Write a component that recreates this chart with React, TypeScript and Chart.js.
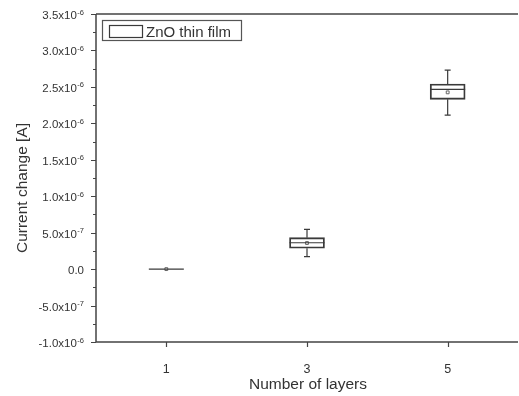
import React, { useEffect, useRef } from "react";
import { Chart, registerables } from "chart.js";

Chart.register(...registerables);

// Box plot statistics (values in A)
const layers = [1, 3, 5];
const whiskerLow = [0, 0.17e-6, 2.113e-6];
const q1 = [0, 0.286e-6, 2.329e-6];
const median = [0, 0.362e-6, 2.466e-6];
const q3 = [0, 0.431e-6, 2.539e-6];
const whiskerHigh = [0, 0.546e-6, 2.731e-6];
const mean = [0, 0.358e-6, 2.425e-6];

const seriesLabel = "ZnO thin film";
const xTicks = [1, 3, 5];
const xTickLabels = ["1", "3", "5"];
const yTicks = [-1e-6, -0.5e-6, 0, 0.5e-6, 1e-6, 1.5e-6, 2e-6, 2.5e-6, 3e-6, 3.5e-6];
const yTickMantissa = ["-1.0x10", "-5.0x10", "0.0", "5.0x10", "1.0x10", "1.5x10", "2.0x10", "2.5x10", "3.0x10", "3.5x10"];
const yTickExponent = ["-6", "-7", "", "-7", "-6", "-6", "-6", "-6", "-6", "-6"];
const xTitle = "Number of layers";
const yTitle = "Current change [A]";

const FONT = '"Liberation Sans", Arial, sans-serif';
const INK = "#333333";

const drawPlugin = {
  id: "boxAndAxes",
  afterDatasetsDraw(chart: any) {
    const ctx = chart.ctx;
    const xs = chart.scales.x;
    const ys = chart.scales.y;
    const meta = chart.getDatasetMeta(0);
    ctx.save();
    ctx.strokeStyle = "#3a3a3a";
    ctx.lineWidth = 1.2;
    layers.forEach((l, i) => {
      const bar = meta.data[i];
      const half = bar ? bar.width / 2 : 17;
      const cx = xs.getPixelForValue(l);
      // median
      const my = ys.getPixelForValue(median[i]);
      ctx.beginPath();
      ctx.moveTo(cx - half, my);
      ctx.lineTo(cx + half, my);
      ctx.stroke();
      // whiskers
      const segs: [number, number][] = [
        [q3[i], whiskerHigh[i]],
        [q1[i], whiskerLow[i]],
      ];
      segs.forEach(([a, b]) => {
        if (a === b) return;
        const ya = ys.getPixelForValue(a);
        const yb = ys.getPixelForValue(b);
        ctx.beginPath();
        ctx.moveTo(cx, ya);
        ctx.lineTo(cx, yb);
        ctx.moveTo(cx - 3, yb);
        ctx.lineTo(cx + 3, yb);
        ctx.stroke();
      });
    });
    ctx.restore();
  },
  afterDraw(chart: any) {
    const ctx = chart.ctx;
    const xs = chart.scales.x;
    const ys = chart.scales.y;
    const area = chart.chartArea;
    ctx.save();
    // axes frame
    ctx.strokeStyle = "#444444";
    ctx.lineWidth = 1.5;
    ctx.beginPath();
    ctx.moveTo(area.left, area.top);
    ctx.lineTo(area.right, area.top);
    ctx.moveTo(area.left, area.top);
    ctx.lineTo(area.left, area.bottom);
    ctx.lineTo(area.right, area.bottom);
    ctx.stroke();

    // y ticks
    ctx.lineWidth = 1.2;
    ctx.beginPath();
    yTicks.forEach((v, i) => {
      const y = Math.round(ys.getPixelForValue(v)) + 0.5;
      ctx.moveTo(area.left - 5, y);
      ctx.lineTo(area.left, y);
      if (i < yTicks.length - 1) {
        const ym = Math.round(ys.getPixelForValue((v + yTicks[i + 1]) / 2)) + 0.5;
        ctx.moveTo(area.left - 3, ym);
        ctx.lineTo(area.left, ym);
      }
    });
    // x ticks
    xTicks.forEach((v) => {
      const x = Math.round(xs.getPixelForValue(v)) + 0.5;
      ctx.moveTo(x, area.bottom);
      ctx.lineTo(x, area.bottom + 5);
    });
    ctx.stroke();

    // y tick labels
    ctx.fillStyle = INK;
    ctx.textBaseline = "alphabetic";
    ctx.textAlign = "left";
    const right = area.left - 12;
    yTicks.forEach((v, i) => {
      const y = ys.getPixelForValue(v);
      ctx.font = `11.5px ${FONT}`;
      const m = yTickMantissa[i];
      const mw = ctx.measureText(m).width;
      ctx.font = `7.5px ${FONT}`;
      const e = yTickExponent[i];
      const ew = e ? ctx.measureText(e).width + 0.5 : 0;
      ctx.font = `11.5px ${FONT}`;
      ctx.fillText(m, right - ew - mw, y + 5);
      if (e) {
        ctx.font = `7.5px ${FONT}`;
        ctx.fillText(e, right - ew + 0.5, y + 0.5);
      }
    });

    // x tick labels
    ctx.font = `12.5px ${FONT}`;
    ctx.textAlign = "center";
    xTicks.forEach((v, i) => {
      ctx.fillText(xTickLabels[i], xs.getPixelForValue(v), area.bottom + 31);
    });

    // axis titles
    ctx.font = `15.5px ${FONT}`;
    ctx.fillText(xTitle, 308, 389);
    ctx.save();
    ctx.translate(27, 188);
    ctx.rotate(-Math.PI / 2);
    ctx.fillText(yTitle, 0, 0);
    ctx.restore();

    // legend
    ctx.strokeStyle = "#555555";
    ctx.lineWidth = 1.2;
    ctx.strokeRect(102.5, 20.5, 139, 20);
    ctx.strokeStyle = "#3a3a3a";
    ctx.strokeRect(109.5, 25.5, 33, 12);
    ctx.textAlign = "left";
    ctx.font = `15px ${FONT}`;
    ctx.fillStyle = INK;
    ctx.fillText(chart.data.datasets[0].label, 146, 37);
    ctx.restore();
  },
};

export default function App() {
  const ref = useRef<HTMLCanvasElement | null>(null);
  useEffect(() => {
    if (!ref.current) return;
    const chart = new Chart(ref.current, {
      type: "bar",
      data: {
        datasets: [
          {
            type: "bar",
            label: seriesLabel,
            data: layers.map((x, i) => ({ x, y: [q1[i], q3[i]] })) as any,
            backgroundColor: "rgba(255,255,255,0)",
            borderColor: "#3a3a3a",
            borderWidth: 1.2,
            borderSkipped: false,
            barThickness: 35,
          },
          {
            type: "scatter",
            label: "mean",
            data: layers.map((x, i) => ({ x, y: mean[i] })),
            pointStyle: "rect",
            radius: 2,
            borderColor: "#666666",
            backgroundColor: "rgba(255,255,255,0)",
            borderWidth: 1,
          } as any,
        ],
      },
      options: {
        animation: false,
        responsive: false,
        devicePixelRatio: 1,
        layout: { padding: { left: 96, top: 14, right: 2, bottom: 54 } },
        plugins: { legend: { display: false }, tooltip: { enabled: false } },
        scales: {
          x: { type: "linear", min: 0, max: 6, display: false, offset: false },
          y: { type: "linear", min: -1e-6, max: 3.5e-6, display: false },
        },
      },
      plugins: [drawPlugin],
    });
    return () => chart.destroy();
  }, []);
  return (
    <div
      style={{
        position: "fixed",
        left: 0,
        top: 0,
        width: 519,
        height: 396,
        overflow: "hidden",
        background: "#ffffff",
      }}
    >
      <canvas ref={ref} width={523} height={396} style={{ display: "block" }} />
    </div>
  );
}
